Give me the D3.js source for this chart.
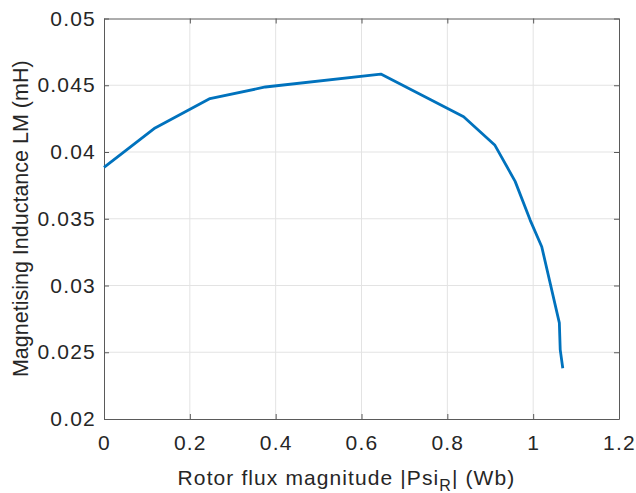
<!DOCTYPE html>
<html>
<head>
<meta charset="utf-8">
<script src="https://cdn.jsdelivr.net/npm/d3@7"></script>
<style>
  body { margin: 0; background: #fff; }
  text { font-family: "Liberation Sans", Arial, sans-serif; fill: #262626; }
  .grid line { stroke: #e3e3e3; stroke-width: 1; }
  .axis path, .axis line { stroke: #5a5a5a; }
</style>
</head>
<body>
<div id="chart"></div>
<script>
/* rotor flux (Wb) vs magnetising inductance (mH) */
var psiR = [0, 0.119, 0.247, 0.376, 0.645, 0.75, 0.838, 0.911, 0.958, 0.993, 1.020, 1.061, 1.063, 1.069];
var lm   = [0.03885, 0.0418, 0.0440, 0.04487, 0.04584, 0.0441, 0.04264, 0.0405, 0.0378, 0.0349, 0.0329, 0.0272, 0.0252, 0.0238];

var xTicks = [0, 0.2, 0.4, 0.6, 0.8, 1, 1.2],
    yTicks = [0.02, 0.025, 0.03, 0.035, 0.04, 0.045, 0.05];

var data = psiR.map(function(d, i) { return {t: d, y: lm[i]}; });

var margin = {top: 18.5, right: 17, bottom: 74, left: 104},
    width = 636 - margin.left - margin.right,
    height = 493 - margin.top - margin.bottom;

var x = d3.scaleLinear().domain([0, 1.2]).range([0, width]),
    y = d3.scaleLinear().domain([0.02, 0.05]).range([height, 0]);

var svg = d3.select("#chart").append("svg")
    .attr("width", 636)
    .attr("height", 493);

var g = svg.append("g")
    .attr("transform", "translate(" + margin.left + "," + margin.top + ")");

/* grid */
var grid = g.append("g").attr("class", "grid");
grid.selectAll(".gx").data(xTicks.slice(1, -1)).enter().append("line")
    .attr("x1", function(d) { return x(d); }).attr("x2", function(d) { return x(d); })
    .attr("y1", 0).attr("y2", height);
grid.selectAll(".gy").data(yTicks.slice(1, -1)).enter().append("line")
    .attr("y1", function(d) { return y(d); }).attr("y2", function(d) { return y(d); })
    .attr("x1", 0).attr("x2", width);

var fmt = function(d) { return String(+d.toFixed(3)); };

/* axes, ticks inward on all four sides */
var gX = g.append("g")
    .attr("class", "axis axis--x")
    .attr("transform", "translate(0," + height + ")")
    .call(d3.axisBottom(x).tickValues(xTicks).tickFormat(fmt).tickSizeInner(-5).tickSizeOuter(0).tickPadding(16));

var gY = g.append("g")
    .attr("class", "axis axis--y")
    .call(d3.axisLeft(y).tickValues(yTicks).tickFormat(fmt).tickSizeInner(-5).tickSizeOuter(0).tickPadding(8));

g.append("g")
    .attr("class", "axis")
    .call(d3.axisTop(x).tickValues(xTicks).tickFormat("").tickSizeInner(-5).tickSizeOuter(0));

g.append("g")
    .attr("class", "axis")
    .attr("transform", "translate(" + width + ",0)")
    .call(d3.axisRight(y).tickValues(yTicks).tickFormat("").tickSizeInner(-5).tickSizeOuter(0));

g.selectAll(".axis text")
    .style("font-size", "21px")
    .style("letter-spacing", "1.2px")
    .style("font-family", "'Liberation Sans', Arial, sans-serif")
    .attr("fill", "#262626");

var line = d3.line()
    .x(function(d) { return x(d.t); })
    .y(function(d) { return y(d.y); });

g.append("path")
    .datum(data)
    .attr("fill", "none")
    .attr("stroke", "#0072BD")
    .attr("stroke-width", 2.8)
    .attr("stroke-linejoin", "round")
    .attr("d", line);

/* labels */
var xl = svg.append("text")
    .attr("x", 346.5)
    .attr("y", 485)
    .attr("text-anchor", "middle")
    .style("font-size", "21px")
    .style("letter-spacing", "1.1px");
xl.append("tspan").text("Rotor flux magnitude |Psi");
xl.append("tspan").attr("dy", 6).style("font-size", "16px").text("R");
xl.append("tspan").attr("dy", -6).text("| (Wb)");

svg.append("text")
    .attr("transform", "translate(27.5," + (margin.top + height / 2) + ") rotate(-90)")
    .attr("text-anchor", "middle")
    .style("font-size", "21.5px")
    .text("Magnetising Inductance LM (mH)");
</script>
</body>
</html>
